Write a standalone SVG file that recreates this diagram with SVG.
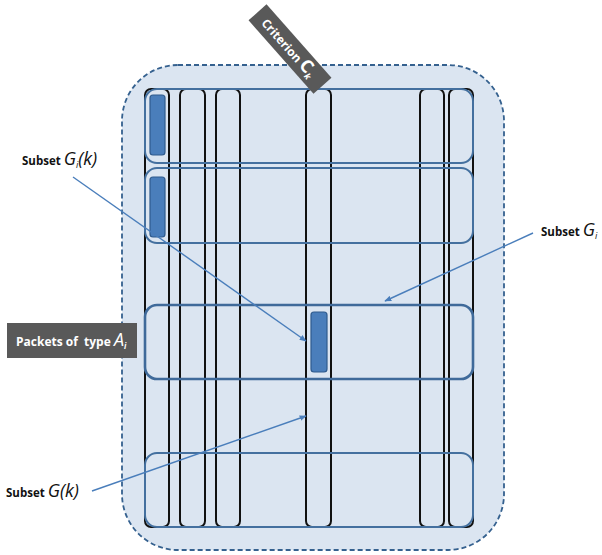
<svg xmlns="http://www.w3.org/2000/svg" width="602" height="555" viewBox="0 0 602 555">
  <style>
    .frame { fill: #dbe5f1; stroke: #35618f; stroke-width: 1.8; stroke-dasharray: 5 3; }
    .col { fill: none; stroke: #111; stroke-width: 2; }
    .row { fill: none; stroke: #44709f; stroke-width: 2; }
    .row-main { fill: none; stroke: #3f6a9a; stroke-width: 2.6; }
    .packet { fill: #4a7ebb; stroke: #2f5b8e; stroke-width: 1.2; }
    .tag { fill: #595959; }
    .tag-text { fill: #fff; font-family: "Open Sans", "Liberation Sans", sans-serif; font-weight: bold; font-size: 12px; }
    .label { fill: #111; font-family: "Open Sans", "Liberation Sans", sans-serif; font-weight: bold; font-size: 11.5px; }
    .math { font-style: italic; font-weight: normal; font-size: 18px; }
    .wire { fill: none; stroke: #4a7ebb; stroke-width: 1.4; marker-end: url(#tip); }
  </style>
  <defs>
    <marker id="tip" viewBox="0 0 10 10" refX="9" refY="5" markerWidth="7" markerHeight="7" orient="auto" markerUnits="userSpaceOnUse">
      <path d="M0,1 L10,5 L0,9 Z" fill="#4a7ebb"/>
    </marker>
  </defs>

  <!-- outer dashed frame -->
  <g id="frame">
    <rect class="frame" x="122" y="65" width="382" height="485" rx="56" ry="56"/>
  </g>

  <!-- subsets G(k): vertical columns -->
  <g id="columns">
    <rect class="col" x="145" y="89" width="24" height="438" rx="6"/>
    <rect class="col" x="180" y="89" width="25" height="438" rx="6"/>
    <rect class="col" x="216" y="89" width="24" height="438" rx="6"/>
    <rect class="col" x="306" y="89" width="25" height="438" rx="6"/>
    <rect class="col" x="420" y="89" width="24" height="438" rx="6"/>
    <rect class="col" x="449" y="89" width="24" height="438" rx="6"/>
  </g>

  <!-- subsets G_i: horizontal rows -->
  <g id="rows">
    <rect class="row" x="145" y="89" width="328" height="74" rx="12"/>
    <rect class="row" x="145" y="168" width="328" height="75" rx="12"/>
    <rect class="row-main" x="145" y="305" width="328" height="74" rx="12"/>
    <rect class="row" x="145" y="453" width="328" height="74" rx="12"/>
  </g>

  <!-- packets -->
  <g id="packets">
    <rect class="packet" x="150" y="95" width="15" height="60" rx="3"/>
    <rect class="packet" x="150" y="177" width="15" height="60" rx="3"/>
    <rect class="packet" x="311" y="312" width="16" height="60" rx="3"/>
  </g>

  <!-- connectors -->
  <g id="connectors">
    <line class="wire" x1="73" y1="177" x2="306" y2="341"/>
    <line class="wire" x1="533" y1="233" x2="385" y2="301"/>
    <line class="wire" x1="92" y1="491" x2="306" y2="416"/>
  </g>

  <!-- labels -->
  <g id="label-criterion" transform="translate(290,49) rotate(48.5)">
    <rect class="tag" x="-49" y="-12" width="98" height="24"/>
    <text class="tag-text" x="-2" y="5" text-anchor="middle">Criterion <tspan font-size="18">C</tspan><tspan font-size="9" font-style="italic" dy="3">k</tspan></text>
  </g>

  <g id="label-packets">
    <rect class="tag" x="7" y="323" width="130" height="35"/>
    <text class="tag-text" x="16" y="346" xml:space="preserve">Packets of  type <tspan class="math" font-weight="bold">A</tspan><tspan font-size="8" font-style="italic" dy="3">i</tspan></text>
  </g>

  <g id="label-subset-gik">
    <text class="label" x="22" y="165">Subset <tspan class="math">G</tspan><tspan font-size="9" font-style="italic" font-weight="normal" dy="3">i</tspan><tspan class="math" dy="-3">(k)</tspan></text>
  </g>

  <g id="label-subset-gi">
    <text class="label" x="541" y="236">Subset <tspan class="math">G</tspan><tspan font-size="9" font-style="italic" font-weight="normal" dy="3">i</tspan></text>
  </g>

  <g id="label-subset-gk">
    <text class="label" x="6" y="497">Subset <tspan class="math">G(k)</tspan></text>
  </g>
</svg>
